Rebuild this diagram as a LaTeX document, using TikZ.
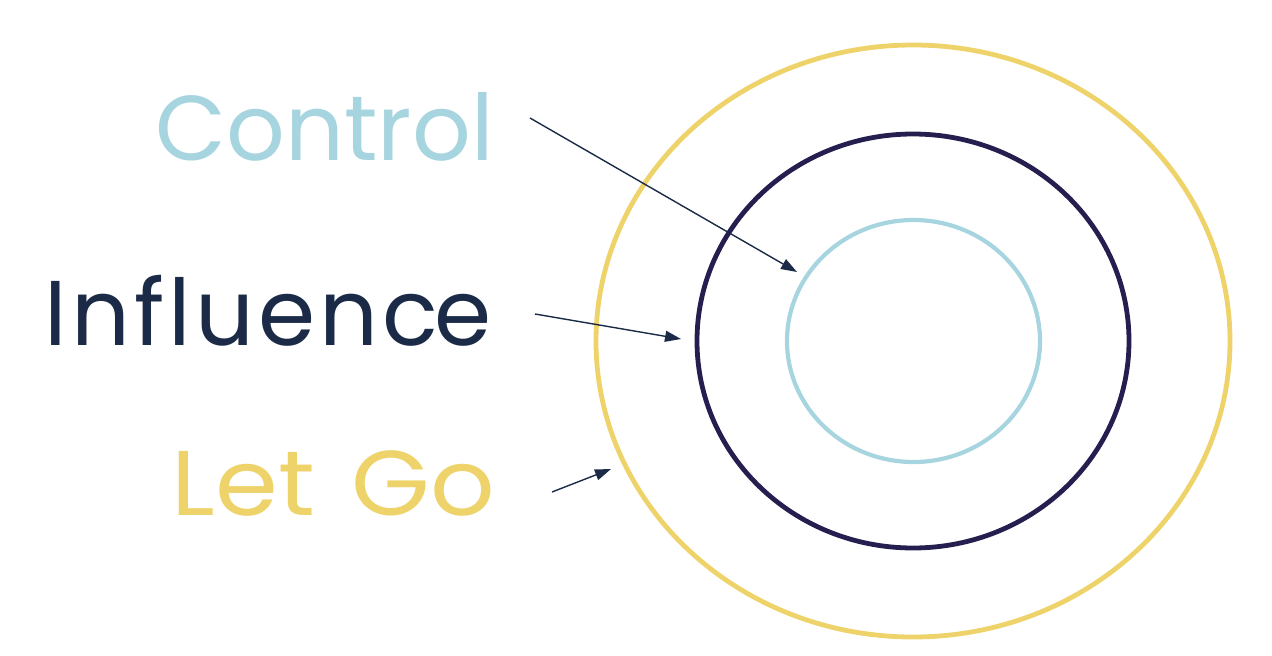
\documentclass[tikz,border=0pt]{standalone}
\usepackage{fontspec}
\setmainfont{Poppins}
\newfontfamily\spaceda[LetterSpace=4.5]{Poppins}
\usetikzlibrary{arrows.meta,shapes.geometric}
\definecolor{cyellow}{HTML}{EED36A}
\definecolor{cnavy}{HTML}{251F50}
\definecolor{cblue}{HTML}{A6D5E0}
\definecolor{ctext}{HTML}{1B2A47}
\tikzset{
  ring/.style={ellipse, inner sep=0pt, outer sep=0pt},
  label/.style={anchor=base east, inner sep=0pt, font=\fontsize{92}{100}\selectfont},
  pointer/.style={draw=ctext, line width=1.4pt, -{Triangle[length=16pt,width=11pt]}}
}
\begin{document}
\begin{tikzpicture}[x=1pt,y=-1pt]
\useasboundingbox (0,0) rectangle (1272,656);
\node[ring, draw=cyellow, line width=4.8pt, minimum width=634pt, minimum height=592pt] (outer) at (913,341) {};
\node[ring, draw=cnavy, line width=4.8pt, minimum width=432pt, minimum height=414pt] (middle) at (913,341) {};
\node[ring, draw=cblue, line width=4.2pt, minimum width=253pt, minimum height=242pt] (inner) at (913.5,341) {};
\node[label, text=cblue] (control) at (494,160) {Control};
\node[label, text=ctext] (influence) at (492,345) {\spaceda Influenc\kern-4pt e};
\node[label, text=cyellow] (letgo) at (495,515) {\scalebox{1.1}[1]{Let\hspace{0.36em}Go}};
\coordinate (cs) at (530,118);
\coordinate (ce) at (797,272);
\coordinate (is) at (535,314);
\coordinate (ie) at (681,339);
\coordinate (ls) at (552,492);
\coordinate (le) at (611,469);
\draw[pointer] (cs) -- (ce);
\draw[pointer] (is) -- (ie);
\draw[pointer] (ls) -- (le);
\end{tikzpicture}
\end{document}
